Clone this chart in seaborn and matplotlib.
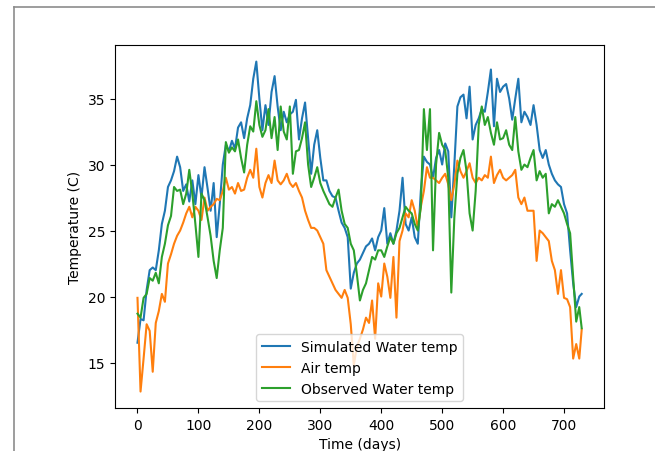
import numpy as np
import pandas as pd
import seaborn as sns
import matplotlib
matplotlib.use('Agg')
import matplotlib.pyplot as plt
from matplotlib.lines import Line2D

# dias (cada 5 dias)
dias = list(range(0, 730, 5)) + [729]

sim_agua = [16.5, 18.3, 18.2, 20.5, 22.0, 22.2, 22.0, 23.5, 25.5, 26.5,
            28.3, 28.8, 29.5, 30.6, 29.8, 28.0, 28.5, 27.2, 28.8, 27.0,
            29.2, 27.5, 29.8, 28.2, 26.5, 28.6, 24.5, 27.0, 30.0, 31.5,
            31.0, 31.8, 31.2, 32.8, 33.2, 32.0, 33.5, 34.5, 36.5, 37.8,
            35.0, 32.6, 34.5, 33.0, 35.5, 36.7, 34.4, 32.6, 34.0, 33.2,
            33.8, 34.0, 34.9, 31.9, 33.5, 34.7, 32.0, 29.3, 31.5, 32.6,
            30.5, 28.8, 28.8, 28.0, 27.6, 27.5, 26.5, 25.6, 25.2, 24.5,
            20.6, 21.8, 22.5, 22.8, 23.3, 23.8, 24.0, 24.4, 23.5, 24.5,
            25.0, 26.7, 24.0, 24.8, 24.0, 25.0, 26.5, 29.0, 25.5, 25.0,
            26.0, 24.5, 24.0, 28.0, 30.6, 30.2, 30.0, 29.0, 30.5, 31.1,
            30.0, 31.6, 31.0, 26.0, 30.0, 34.4, 35.1, 35.3, 33.5, 35.9,
            31.9, 33.0, 33.5, 34.2, 34.0, 35.5, 37.2, 32.9, 36.5, 35.5,
            35.9, 36.1, 35.0, 33.4, 35.0, 36.5, 33.2, 34.0, 33.6, 33.0,
            34.5, 33.0, 31.1, 30.5, 31.1, 30.0, 29.3, 28.8, 28.5, 28.3,
            27.0, 26.3, 23.5, 21.0, 19.2, 20.0, 20.2]

aire = [19.9, 12.8, 15.3, 17.9, 17.4, 14.3, 18.0, 18.9, 20.2, 19.6,
        22.5, 23.2, 24.0, 24.6, 25.0, 25.6, 26.3, 26.8, 26.0, 26.8,
        26.5, 25.8, 27.5, 26.5, 26.8, 27.0, 27.4, 27.3, 28.0, 29.0,
        28.1, 28.3, 27.8, 28.6, 28.0, 28.1, 29.0, 29.6, 29.0, 31.2,
        28.3, 27.5, 28.6, 29.2, 28.6, 30.3, 28.8, 28.5, 28.8, 29.3,
        28.6, 28.3, 28.6, 28.0, 27.5, 26.5, 25.8, 25.2, 25.2, 25.0,
        24.5, 24.0, 22.0, 21.5, 21.0, 20.5, 20.2, 19.9, 20.5, 19.9,
        17.9, 14.8, 16.2, 16.8, 17.5, 18.4, 18.0, 19.7, 16.8, 21.0,
        20.0, 22.5, 21.5, 19.9, 23.0, 18.4, 24.2, 25.0, 26.3, 26.0,
        27.3, 26.5, 25.2, 26.8, 28.0, 29.8, 29.0, 29.0, 28.8, 28.6,
        29.0, 29.3, 28.5, 27.3, 28.5, 30.3, 29.5, 29.0, 29.5, 30.1,
        29.0, 28.6, 29.0, 28.8, 29.2, 29.0, 30.6, 28.6, 29.2, 29.6,
        29.0, 28.8, 29.0, 29.2, 29.6, 27.5, 27.0, 27.5, 26.5, 26.5,
        26.5, 22.7, 25.0, 24.8, 24.5, 24.2, 22.7, 22.0, 20.2, 22.0,
        19.9, 19.8, 19.2, 15.3, 16.4, 15.3, 17.5]

obs_agua = [18.7, 18.4, 19.9, 20.2, 21.4, 21.2, 21.8, 21.0, 23.0, 24.0,
            25.4, 26.1, 28.3, 28.0, 28.1, 27.0, 27.8, 29.6, 27.8, 25.5,
            23.0, 27.8, 27.3, 26.0, 24.6, 22.7, 21.4, 23.5, 25.2, 31.7,
            30.9, 31.3, 31.0, 31.9, 30.5, 29.4, 31.5, 32.9, 32.5, 34.8,
            33.0, 32.1, 32.6, 34.2, 32.0, 33.6, 31.1, 34.4, 32.5, 31.9,
            34.4, 29.3, 31.0, 31.1, 32.0, 33.2, 30.0, 28.3, 29.0, 29.8,
            28.6, 28.0, 27.5, 27.0, 26.8, 27.5, 28.1, 26.5, 25.5, 25.2,
            24.0, 23.5, 21.7, 19.7, 20.5, 21.0, 22.0, 23.0, 22.8, 23.5,
            23.5, 23.0, 23.8, 24.5, 24.0, 24.8, 25.2, 26.0, 26.8, 26.5,
            26.3, 25.5, 25.0, 26.8, 34.2, 31.1, 34.2, 23.5, 30.0, 32.4,
            31.5, 31.1, 29.0, 20.3, 26.0, 29.3, 30.5, 31.1, 29.5, 26.3,
            25.0, 28.0, 33.0, 34.4, 33.0, 33.6, 32.4, 31.5, 33.2, 31.9,
            32.0, 32.6, 31.5, 31.1, 33.6, 31.0, 29.6, 30.0, 29.8, 30.5,
            31.1, 28.8, 29.5, 29.0, 29.3, 26.3, 27.0, 26.8, 27.3, 26.8,
            26.3, 25.5, 24.8, 21.4, 18.1, 19.2, 17.6]

series = ['Simulated Water temp', 'Air temp', 'Observed Water temp']

df = pd.concat([
    pd.DataFrame({'dia': dias, 'temp': sim_agua, 'serie': series[0]}),
    pd.DataFrame({'dia': dias, 'temp': aire, 'serie': series[1]}),
    pd.DataFrame({'dia': dias, 'temp': obs_agua, 'serie': series[2]}),
])

fig = plt.figure(figsize=(6.55, 4.52), dpi=100)
ax = fig.add_axes([0.176, 0.095, 0.746, 0.803])

sns.lineplot(data=df, x='dia', y='temp', hue='serie', hue_order=series,
             palette=['#1f77b4', '#ff7f0e', '#2ca02c'], linewidth=1.5, ax=ax)

ax.set_xlabel('Time (days)', fontsize=10)
ax.set_ylabel('Temperature (C)', fontsize=10)
ax.tick_params(labelsize=10)
ax.set_xticks([0, 100, 200, 300, 400, 500, 600, 700])
ax.set_yticks([15, 20, 25, 30, 35])
ax.legend(loc='lower center', fontsize=10)

# marco gris de la captura
gris = '#8c8c8c'
fig.add_artist(Line2D([14/655, 1], [1 - 8/452, 1 - 8/452], color=gris, lw=1.2,
                      transform=fig.transFigure))
fig.add_artist(Line2D([14/655, 14/655], [0, 1 - 8/452], color=gris, lw=1.2,
                      transform=fig.transFigure))

fig.savefig('out.png', dpi=100)
